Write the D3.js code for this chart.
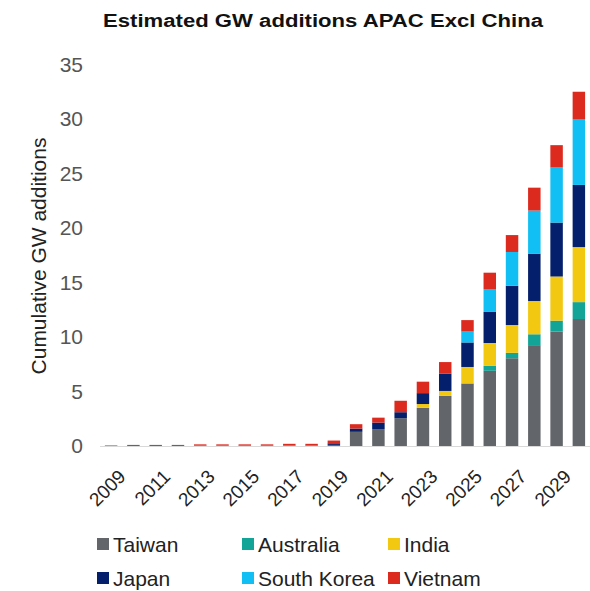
<!DOCTYPE html>
<html lang="en">
<head>
<meta charset="UTF-8">
<title>Estimated GW additions APAC Excl China</title>
<style>
  body { margin: 0; background: #fff; font-family: "Liberation Sans", Arial, sans-serif; }
  .title { font-size: 18px; font-weight: bold; fill: #111; }
  .ylabel { font-size: 21px; fill: #222; }
  .ytick { font-size: 21px; fill: #555; }
  .xtick { font-size: 19px; fill: #222; }
  .legend text { font-size: 21px; fill: #222; }
</style>
</head>
<body>
<div id="chart"></div>
<script src="https://cdnjs.cloudflare.com/ajax/libs/d3/7.8.5/d3.min.js"></script>
<script>
var years = d3.range(2009, 2031);
var seriesNames = ['Taiwan', 'Australia', 'India', 'Japan', 'South Korea', 'Vietnam'];
var seriesColors = ['#62656a', '#12a597', '#f2c811', '#041f6b', '#12bff5', '#dd2a1f'];

// 2009 .. 2030
var taiwan     = [0.05, 0.1, 0.1, 0.1, 0.05, 0.05, 0.05, 0.05, 0.05, 0.05, 0.1, 1.3, 1.55, 2.55, 3.5, 4.6, 5.7, 6.9, 8.05, 9.25, 10.5, 11.65];
var australia  = [0, 0, 0, 0, 0, 0, 0, 0, 0, 0, 0, 0, 0, 0, 0, 0, 0.05, 0.45, 0.5, 1.0, 1.0, 1.55];
var india      = [0, 0, 0, 0, 0, 0, 0, 0, 0, 0, 0, 0, 0, 0, 0.35, 0.45, 1.5, 2.1, 2.55, 3.05, 4.05, 5.05];
var japan      = [0, 0, 0, 0, 0, 0, 0, 0, 0, 0, 0.15, 0.3, 0.6, 0.55, 1.0, 1.6, 2.25, 2.85, 3.6, 4.35, 4.95, 5.7];
var southKorea = [0, 0, 0, 0, 0, 0, 0, 0, 0, 0, 0, 0, 0, 0, 0, 0, 1.0, 2.1, 3.1, 3.95, 5.05, 6.0];
var vietnam    = [0, 0, 0, 0, 0.1, 0.1, 0.1, 0.1, 0.15, 0.15, 0.25, 0.4, 0.45, 1.05, 1.05, 1.05, 1.05, 1.5, 1.55, 2.1, 2.05, 2.55];

var yTicks = [0, 5, 10, 15, 20, 25, 30, 35];
var xTickYears = [2009, 2011, 2013, 2015, 2017, 2019, 2021, 2023, 2025, 2027, 2029];

var width = 590, height = 591;
var seriesValues = [taiwan, australia, india, japan, southKorea, vietnam];

var table = years.map(function(y, i) {
  var row = { year: y };
  seriesNames.forEach(function(name, k) { row[name] = seriesValues[k][i]; });
  return row;
});

var svg = d3.select('#chart').append('svg')
  .attr('width', width)
  .attr('height', height);

var x = d3.scaleBand()
  .domain(years)
  .range([100, 590])
  .paddingInner(0.44)
  .paddingOuter(0.22);

var y = d3.scaleLinear()
  .domain([0, 35])
  .range([446, 64.5]);

var color = d3.scaleOrdinal().domain(seriesNames).range(seriesColors);

svg.append('text')
  .attr('class', 'title')
  .attr('x', 323)
  .attr('y', 27)
  .attr('text-anchor', 'middle')
  .attr('textLength', 440)
  .attr('lengthAdjust', 'spacingAndGlyphs')
  .text('Estimated GW additions APAC Excl China');

// y axis labels
svg.append('g').selectAll('text')
  .data(yTicks)
  .enter().append('text')
  .attr('class', 'ytick')
  .attr('x', 83)
  .attr('y', function(d) { return y(d); })
  .attr('dy', '0.35em')
  .attr('text-anchor', 'end')
  .text(function(d) { return d; });

svg.append('text')
  .attr('class', 'ylabel')
  .attr('transform', 'translate(46,256) rotate(-90)')
  .attr('text-anchor', 'middle')
  .text('Cumulative GW additions');

// stacked bars
var stack = d3.stack().keys(seriesNames);
var layers = svg.append('g').selectAll('g')
  .data(stack(table))
  .enter().append('g')
  .attr('fill', function(d) { return color(d.key); });

layers.selectAll('rect')
  .data(function(d) { return d; })
  .enter().append('rect')
  .attr('x', function(d) { return x(d.data.year); })
  .attr('width', x.bandwidth())
  .attr('y', function(d) { return y(d[1]); })
  .attr('height', function(d) { return y(d[0]) - y(d[1]); });

// baseline
svg.append('line')
  .attr('x1', 100).attr('x2', 590)
  .attr('y1', y(0) + 0.5).attr('y2', y(0) + 0.5)
  .attr('stroke', '#d9d9d9')
  .attr('stroke-width', 1);

// x labels
svg.append('g').selectAll('text')
  .data(xTickYears)
  .enter().append('text')
  .attr('class', 'xtick')
  .attr('text-anchor', 'end')
  .attr('dy', '0.35em')
  .attr('transform', function(d) {
    return 'translate(' + (x(d) + x.bandwidth() / 2 + 11) + ',473) rotate(-45)';
  })
  .text(function(d) { return d; });

// legend
var legendCols = [97, 242, 388];
var legendRows = [544, 578];
var legend = svg.append('g').attr('class', 'legend')
  .selectAll('g')
  .data(seriesNames)
  .enter().append('g')
  .attr('transform', function(d, i) {
    return 'translate(' + legendCols[i % 3] + ',' + legendRows[Math.floor(i / 3)] + ')';
  });

legend.append('rect')
  .attr('x', 0).attr('y', -6)
  .attr('width', 12).attr('height', 12)
  .attr('fill', color);

legend.append('text')
  .attr('x', 16)
  .attr('dy', '0.36em')
  .text(function(d) { return d; });
</script>
</body>
</html>
